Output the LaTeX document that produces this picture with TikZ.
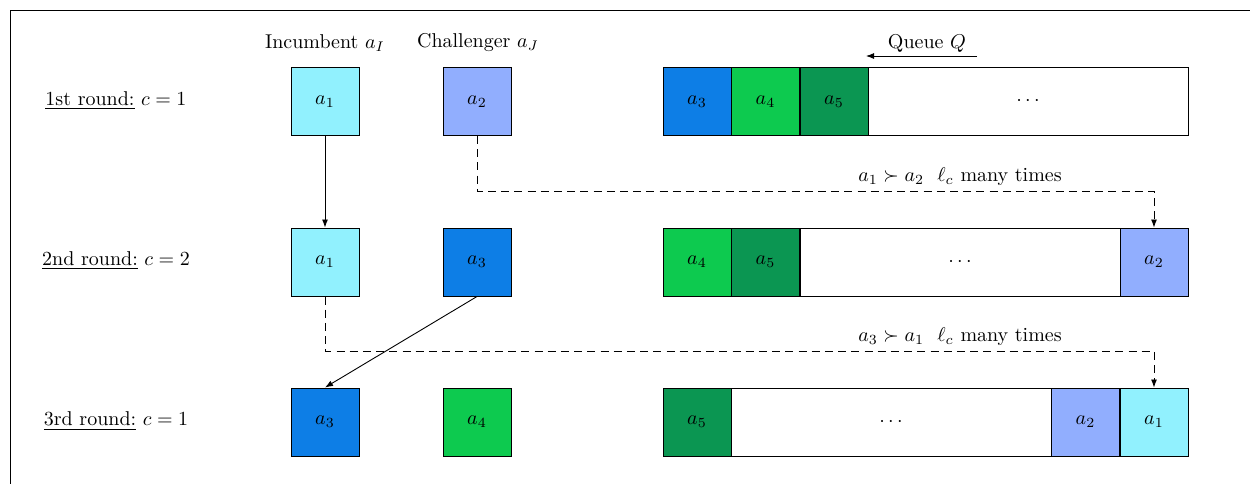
\documentclass[tikz,border=0pt]{standalone}
\usetikzlibrary{arrows.meta}
\definecolor{cA}{HTML}{91F1FE}
\definecolor{cB}{HTML}{91AEFE}
\definecolor{cC}{HTML}{0D7EE6}
\definecolor{cD}{HTML}{0DCA4F}
\definecolor{cE}{HTML}{0B9652}
\begin{document}
\begin{tikzpicture}[x=0.5pt,y=-0.5pt,
  cell/.style={draw=black, minimum width=34pt, minimum height=34pt, inner sep=0pt, line width=0.5pt},
  wide/.style={draw=black, minimum height=34pt, inner sep=0pt, line width=0.5pt, fill=white},
  arr/.style={-{Latex[length=4pt,width=3pt]}, line width=0.45pt},
  dsh/.style={arr, dash pattern=on 4pt off 2.6pt},
  lbl/.style={inner sep=0pt}]
\useasboundingbox (0,0) rectangle (1250,483);
\clip (0,0) rectangle (1250,483);
\draw[line width=0.5pt] (10,10) rectangle (1300,530);

% row labels
\node[lbl] (r1) at (116,101) {\underline{1st round:} $c=1$};
\node[lbl] (r2) at (116,261) {\underline{2nd round:} $c=2$};
\node[lbl] (r3) at (116,421) {\underline{3rd round:} $c=1$};

% headers
\node[lbl] (hI) at (325,43) {Incumbent $a_I$};
\node[lbl] (hJ) at (478,43) {Challenger $a_J$};
\node[lbl] (hQ) at (927,43) {Queue $Q$};
\coordinate (qs) at (977,56);
\coordinate (qe) at (866,56);
\draw[arr] (qs) -- (qe);

% row 1
\node[cell, fill=cA] (i1) at (325,101.5) {$a_1$};
\node[cell, fill=cB] (j1) at (477,101.5) {$a_2$};
\node[cell, fill=cC] (q13) at (697,101.5) {$a_3$};
\node[cell, fill=cD] (q14) at (765.5,101.5) {$a_4$};
\node[cell, fill=cE] (q15) at (834,101.5) {$a_5$};
\node[wide, minimum width=160pt] (q1d) at (1028,101.5) {$\cdots$};

% row 2
\node[cell, fill=cA] (i2) at (325,262) {$a_1$};
\node[cell, fill=cC] (j2) at (477,262) {$a_3$};
\node[cell, fill=cD] (q24) at (697,262) {$a_4$};
\node[cell, fill=cE] (q25) at (765.5,262) {$a_5$};
\node[wide, minimum width=160pt] (q2d) at (960,262) {$\cdots$};
\node[cell, fill=cB] (q22) at (1154,262) {$a_2$};

% row 3
\node[cell, fill=cC] (i3) at (325,422) {$a_3$};
\node[cell, fill=cD] (j3) at (477,422) {$a_4$};
\node[cell, fill=cE] (q35) at (697,422) {$a_5$};
\node[wide, minimum width=160pt] (q3d) at (891,422) {$\cdots$};
\node[cell, fill=cB] (q32) at (1085.5,422) {$a_2$};
\node[cell, fill=cA] (q31) at (1154,422) {$a_1$};

% connectors
\draw[arr] (i1.south) -- (i2.north);
\draw[dsh] (j1.south) -- (477,191) -- (1154,191) -- (q22.north);
\node[lbl] (l1) at (960,177) {$a_1 \succ a_2$\ \ $\ell_c$ many times};
\draw[dsh] (i2.south) -- (325,351) -- (1154,351) -- (q31.north);
\node[lbl] (l2) at (960,337) {$a_3 \succ a_1$\ \ $\ell_c$ many times};
\draw[arr] (j2.south) -- (i3.north);
\end{tikzpicture}
\end{document}
